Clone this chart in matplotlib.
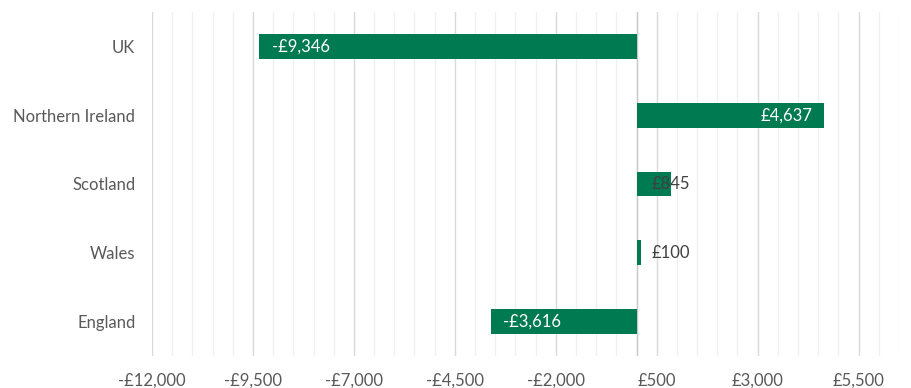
import numpy as np
import matplotlib
matplotlib.use("Agg")
import matplotlib.pyplot as plt
from matplotlib.ticker import FixedLocator, MultipleLocator, FuncFormatter

plt.rcParams['font.family'] = ['Lato', 'DejaVu Sans']

# data
regions = ["UK", "Northern Ireland", "Scotland", "Wales", "England"]
values = [-9346, 4637, 845, 100, -3616]
labels = ["-£9,346", "£4,637", "£845", "£100", "-£3,616"]
inside = [True, True, False, False, True]
xticks = [-12000, -9500, -7000, -4500, -2000, 500, 3000, 5500]

green = "#007A50"
grey_txt = "#595959"

fig = plt.figure(figsize=(9.12, 3.88), dpi=100)
ax = fig.add_axes([152/912, 1-356/388, (899-152)/912, 344/388])

y = np.arange(len(regions))
ax.barh(y, values, height=0.36, color=green, zorder=3)

for yi, v, lab, ins in zip(y, values, labels, inside):
    if ins:
        if v < 0:
            ax.annotate(lab, (v, yi), xytext=(9, 0), textcoords="offset points",
                        ha="left", va="center", color="white", fontsize=12, zorder=4)
        else:
            ax.annotate(lab, (v, yi), xytext=(-8, 0), textcoords="offset points",
                        ha="right", va="center", color="white", fontsize=12, zorder=4)
    else:
        ax.annotate(lab, (0, yi), xytext=(11, 0), textcoords="offset points",
                    ha="left", va="center", color="#404040", fontsize=12, zorder=4)

ax.set_xlim(-12000, 6500)
ax.set_ylim(len(regions) - 0.5, -0.5)
ax.xaxis.set_major_locator(FixedLocator(xticks))
ax.xaxis.set_minor_locator(MultipleLocator(500))

def money(x, pos):
    s = "£{:,.0f}".format(abs(x))
    return "-" + s if x < 0 else s

ax.xaxis.set_major_formatter(FuncFormatter(money))
ax.grid(which="minor", axis="x", color="#F0F0F0", lw=1, zorder=0)
ax.grid(which="major", axis="x", color="#D9D9D9", lw=1, zorder=0)
ax.axvline(0, color="#C8C8C8", lw=1, zorder=2)

ax.set_yticks(y)
ax.set_yticklabels(regions)
ax.tick_params(axis="y", length=0, pad=12, labelsize=12, labelcolor=grey_txt)
ax.tick_params(axis="x", which="both", length=0, pad=12, labelsize=12, labelcolor=grey_txt)
for s in ax.spines.values():
    s.set_visible(False)

fig.savefig("out.png", dpi=100)
